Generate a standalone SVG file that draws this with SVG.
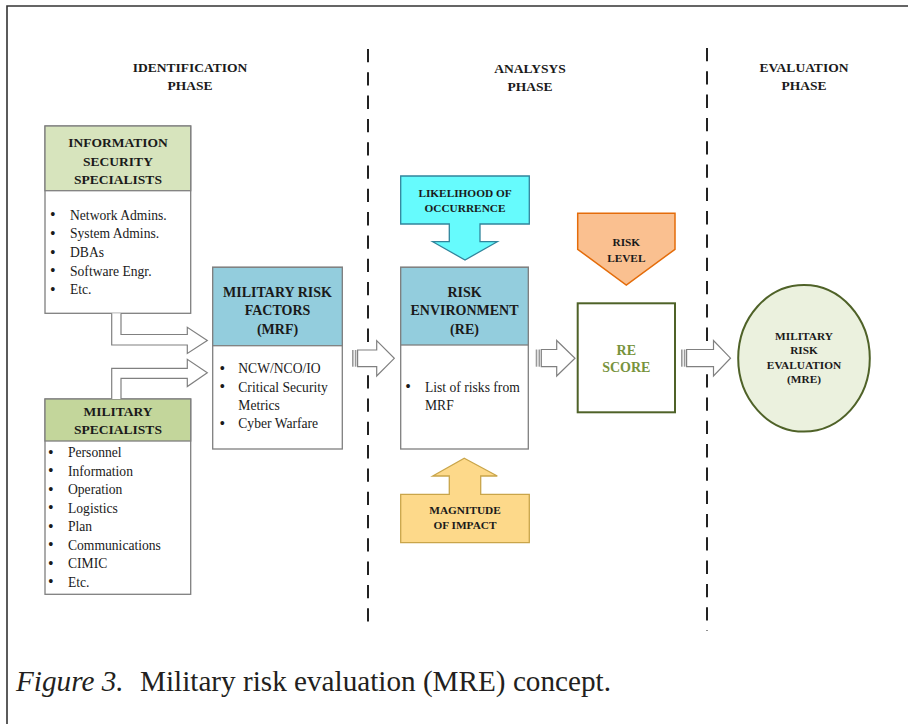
<svg xmlns="http://www.w3.org/2000/svg" width="908" height="724" viewBox="0 0 908 724">
<style>
text{font-family:"Liberation Serif","Times New Roman",serif;fill:#1a1a1a}
.h{font-weight:bold;font-size:13.5px;text-anchor:middle}
.ph{font-weight:bold;font-size:13.5px;text-anchor:middle}
.b{font-size:13.6px}
.d{font-size:16px}
.s{font-weight:bold;font-size:11.3px;text-anchor:middle}
.box{fill:#fff;stroke:#7f7f7f;stroke-width:1.3}
.blk{fill:#fff;stroke:#808080;stroke-width:1.2}
.stripe{fill:#9a9a9a}
.dash{stroke:#222;stroke-width:2;stroke-dasharray:13.3 10;fill:none}
</style>
<rect x="0" y="0" width="908" height="724" fill="#fff"/>
<path d="M7,730 V6 H915" fill="none" stroke="#333" stroke-width="1.6"/>

<g id="dividers">
<line class="dash" x1="368" y1="49" x2="368" y2="631"/>
<line class="dash" x1="707" y1="48" x2="707" y2="631"/>
</g>

<g id="phase-titles">
<text class="ph" x="190" y="72">IDENTIFICATION</text>
<text class="ph" x="190" y="90">PHASE</text>
<text class="ph" x="530" y="73">ANALYSYS</text>
<text class="ph" x="530" y="91">PHASE</text>
<text class="ph" x="804" y="72">EVALUATION</text>
<text class="ph" x="804" y="90">PHASE</text>
</g>

<g id="info-security-specialists">
<rect class="box" x="45" y="126" width="145.7" height="187.3"/>
<rect x="45" y="126" width="145.7" height="64.7" fill="#d7e4bd" stroke="#7f7f7f" stroke-width="1.3"/>
<text class="h" x="118" y="147">INFORMATION</text>
<text class="h" x="118" y="165.5">SECURITY</text>
<text class="h" x="118" y="184">SPECIALISTS</text>
<g class="b">
<text class="d" x="50" y="220">•</text><text x="70" y="219.5">Network Admins.</text>
<text class="d" x="50" y="238.5">•</text><text x="70" y="238">System Admins.</text>
<text class="d" x="50" y="257.5">•</text><text x="70" y="257">DBAs</text>
<text class="d" x="50" y="276">•</text><text x="70" y="275.5">Software Engr.</text>
<text class="d" x="50" y="294.5">•</text><text x="70" y="294">Etc.</text>
</g>
</g>

<g id="military-specialists">
<rect class="box" x="45" y="399" width="145.7" height="195.3"/>
<rect x="45" y="399" width="145.7" height="42" fill="#c3d69b" stroke="#7f7f7f" stroke-width="1.3"/>
<text class="h" x="118" y="416">MILITARY</text>
<text class="h" x="118" y="434">SPECIALISTS</text>
<g class="b">
<text class="d" x="48" y="457.8">•</text><text x="68" y="457.3">Personnel</text>
<text class="d" x="48" y="476.3">•</text><text x="68" y="475.8">Information</text>
<text class="d" x="48" y="494.8">•</text><text x="68" y="494.3">Operation</text>
<text class="d" x="48" y="513.3">•</text><text x="68" y="512.8">Logistics</text>
<text class="d" x="48" y="531.8">•</text><text x="68" y="531.3">Plan</text>
<text class="d" x="48" y="550.3">•</text><text x="68" y="549.8">Communications</text>
<text class="d" x="48" y="568.8">•</text><text x="68" y="568.3">CIMIC</text>
<text class="d" x="48" y="587.3">•</text><text x="68" y="586.8">Etc.</text>
</g>
</g>

<g id="military-risk-factors">
<rect class="box" x="212.7" y="267.3" width="129.6" height="181.7"/>
<rect x="212.7" y="267.3" width="129.6" height="78.4" fill="#93cddd" stroke="#7f7f7f" stroke-width="1.3"/>
<text class="h" x="277.5" y="296.7" style="font-size:14px">MILITARY RISK</text>
<text class="h" x="277.5" y="315" style="font-size:14px">FACTORS</text>
<text class="h" x="277.5" y="334" style="font-size:14px">(MRF)</text>
<g class="b">
<text class="d" x="219.5" y="373.8">•</text><text x="238.3" y="373.3">NCW/NCO/IO</text>
<text class="d" x="219.5" y="392.2">•</text><text x="238.3" y="391.7">Critical Security</text>
<text x="238.3" y="410">Metrics</text>
<text class="d" x="219.5" y="428.8">•</text><text x="238.3" y="428.3">Cyber Warfare</text>
</g>
</g>

<g id="likelihood-of-occurrence">
<polygon points="400.7,176 529.3,176 529.3,224 480,224 480,241.7 497.3,241.7 465,260 432.7,241.7 449.3,241.7 449.3,224 400.7,224" fill="#66fbfd" stroke="#31859c" stroke-width="1.3"/>
<text class="s" x="465" y="196.7">LIKELIHOOD OF</text>
<text class="s" x="465" y="211.7">OCCURRENCE</text>
</g>

<g id="risk-environment">
<rect class="box" x="400.7" y="267.3" width="127.6" height="181.7"/>
<rect x="400.7" y="267.3" width="127.6" height="77.7" fill="#93cddd" stroke="#7f7f7f" stroke-width="1.3"/>
<text class="h" x="464.5" y="296.7" style="font-size:14px">RISK</text>
<text class="h" x="464.5" y="315" style="font-size:14px">ENVIRONMENT</text>
<text class="h" x="464.5" y="334" style="font-size:14px">(RE)</text>
<g class="b">
<text class="d" x="405.3" y="392.2">•</text><text x="425" y="391.7">List of risks from</text>
<text x="425" y="410">MRF</text>
</g>
</g>

<g id="magnitude-of-impact">
<polygon points="464.3,458.3 497.3,476 480.7,476 480.7,494.3 529.3,494.3 529.3,542.7 400.7,542.7 400.7,494.3 449.3,494.3 449.3,476 432.7,476" fill="#fdd98a" stroke="#c9a54a" stroke-width="1.3"/>
<text class="s" x="465" y="514">MAGNITUDE</text>
<text class="s" x="465" y="529.3">OF IMPACT</text>
</g>

<g id="risk-level">
<polygon points="577.7,213.3 675,213.3 675,249.3 626.3,285 577.7,249.3" fill="#fac090" stroke="#e46c0a" stroke-width="1.5"/>
<text class="s" x="626.3" y="245.7">RISK</text>
<text class="s" x="626.3" y="261.7">LEVEL</text>
</g>

<g id="re-score">
<rect x="577.7" y="303.3" width="97.3" height="109" fill="#fff" stroke="#4f6228" stroke-width="2"/>
<text class="h" x="626.3" y="355" style="font-size:14px;fill:#77933c">RE</text>
<text class="h" x="626.3" y="372.3" style="font-size:14px;fill:#77933c">SCORE</text>
</g>

<g id="military-risk-evaluation">
<ellipse cx="804" cy="358.3" rx="65.8" ry="73.3" fill="#ebf1de" stroke="#4f6228" stroke-width="2"/>
<text class="s" x="804" y="340">MILITARY</text>
<text class="s" x="804" y="354.3">RISK</text>
<text class="s" x="804" y="369.3">EVALUATION</text>
<text class="s" x="804" y="383.3">(MRE)</text>
</g>

<g id="connectors">
<path class="blk" d="M111.7,313.3 V345 H187.3 V353.5 L207.3,340.5 L187.3,327.3 V334.5 H121 V313.3"/>
<path class="blk" d="M111.7,399 V368.3 H187.3 V359.3 L207.3,372.8 L187.3,386.5 V378.3 H121 V399"/>
<rect class="stripe" x="352" y="350" width="1.6" height="16.7"/>
<rect class="stripe" x="354.8" y="350" width="1.6" height="16.7"/>
<path class="blk" d="M357.6,350 H376.7 V340.7 L394.3,358.3 L376.7,376 V366.7 H357.6 Z"/>
<rect class="stripe" x="535.7" y="349.5" width="1.6" height="17.2"/>
<rect class="stripe" x="538.5" y="349.5" width="1.6" height="17.2"/>
<path class="blk" d="M541.3,349.5 H556.7 V340.5 L575,358.2 L556.7,376 V366.7 H541.3 Z"/>
<rect class="stripe" x="681" y="349.5" width="1.6" height="17.2"/>
<rect class="stripe" x="683.8" y="349.5" width="1.6" height="17.2"/>
<path class="blk" d="M686.6,349.5 H713.5 V340.5 L730.5,358.2 L713.5,376 V366.7 H686.6 Z"/>
</g>

<g id="caption">
<text x="16" y="690.5" style="font-size:29.2px;fill:#231f20"><tspan font-style="italic">Figure 3.</tspan><tspan x="140">Military risk evaluation (MRE) concept.</tspan></text>
</g>
</svg>
